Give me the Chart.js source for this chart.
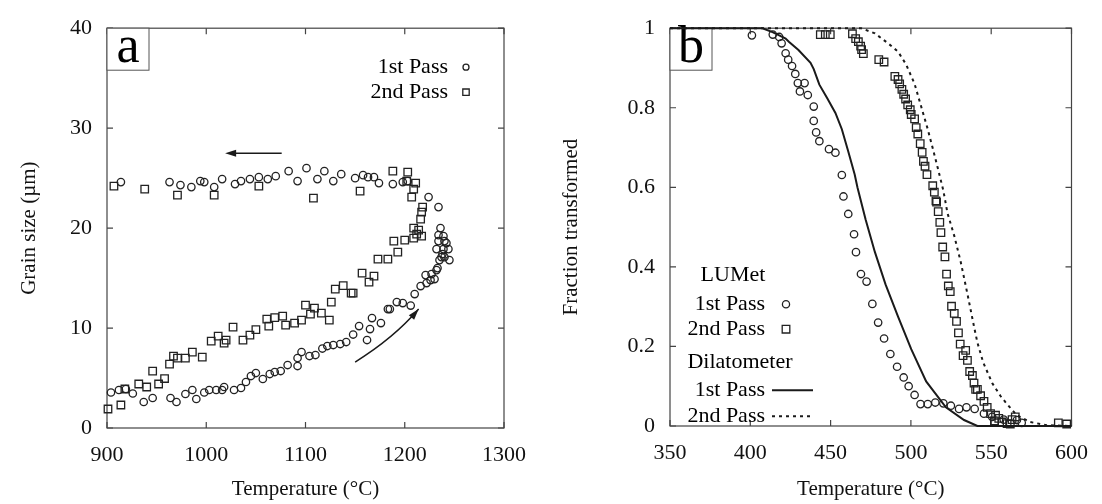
<!DOCTYPE html>
<html>
<head>
<meta charset="utf-8">
<script src="https://cdn.jsdelivr.net/npm/chart.js@4.4.0/dist/chart.umd.min.js"></script>
<style>
html, body { margin: 0; padding: 0; background: #fff; }
#graficoA { position: absolute; left: 0; top: 0; }
#graficoB { position: absolute; left: 540px; top: 0; }
</style>
</head>
<body>
<canvas id="graficoA" width="540" height="504"></canvas>
<canvas id="graficoB" width="562" height="504"></canvas>
<script>
// ---- Panel (a): grain size vs temperature ----
const temp1a = [904, 912, 919, 926, 937, 946, 964, 970, 979, 986, 990, 998, 1003, 1010, 1016, 1018, 1028, 1035, 1040, 1045,
  1050, 1057, 1064, 1069, 1075, 1082, 1092, 1092, 1096, 1104, 1110, 1117, 1122, 1128, 1135, 1141, 1148, 1154, 1162, 1165,
  1167, 1176, 1183, 1185, 1192, 1198, 1206, 1210, 1216, 1222, 1221, 1227, 1230, 1226, 1233, 1235, 1237, 1240, 1245, 1232,
  1239, 1244, 1234, 1242, 1239, 1234, 1236, 1240, 1238, 1232,
  1234, 1224, 1203, 1198, 1188, 1174, 1169, 1163, 1158, 1150, 1136, 1128, 1119, 1112, 1101, 1092, 1083, 1070, 1062, 1053,
  1044, 1035, 1029, 1016, 1008, 998, 994, 985, 974, 963, 914];
const size1a = [3.55, 3.8, 3.9, 3.45, 2.6, 3.0, 3.0, 2.6, 3.4, 3.8, 2.9, 3.55, 3.8, 3.8, 3.8, 4.1, 3.8, 4.0, 4.6, 5.2,
  5.5, 4.9, 5.4, 5.6, 5.7, 6.3, 6.2, 7.0, 7.6, 7.2, 7.3, 7.95, 8.2, 8.3, 8.4, 8.6, 9.35, 10.2, 8.8, 9.9,
  11.0, 10.5, 11.9, 11.9, 12.6, 12.5, 12.25, 13.4, 14.2, 14.5, 15.3, 15.4, 14.9, 14.8, 16.0, 16.8, 17.1, 17.1, 16.8, 17.9,
  17.9, 17.9, 18.7, 18.5, 19.2, 19.3, 20.0, 18.7, 17.4, 15.8,
  22.1, 23.1, 24.7, 24.6, 24.4, 24.5, 25.1, 25.1, 25.3, 25.0, 25.4, 24.7, 25.7, 24.9, 26.0, 24.7, 25.7, 25.2, 24.9, 25.1,
  24.9, 24.7, 24.4, 24.9, 24.1, 24.6, 24.7, 24.1, 24.3, 24.6, 24.6];

const temp2a = [901, 914, 918, 932, 940, 946, 952, 958, 963, 967, 971, 979, 986, 996, 1005, 1012, 1018, 1020, 1027, 1037,
  1044, 1050, 1061, 1063, 1069, 1077, 1080, 1089, 1096, 1100, 1105, 1109, 1116, 1124, 1126, 1130, 1138, 1146, 1148, 1157,
  1164, 1169, 1173, 1183, 1193, 1189, 1200, 1209, 1217, 1212, 1214, 1209, 1216, 1217, 1218, 1207, 1209, 1211, 1202, 1203,
  1188, 1155, 1108, 1053, 1008, 971, 938, 907];
const size2a = [1.9, 2.3, 3.9, 4.4, 4.1, 5.7, 4.4, 4.95, 6.4, 7.2, 7.0, 7.0, 7.6, 7.1, 8.7, 9.2, 8.5, 8.8, 10.1, 8.8,
  9.3, 9.85, 10.9, 10.2, 11.05, 11.2, 10.3, 10.5, 10.8, 12.3, 11.4, 12.0, 11.5, 10.8, 12.6, 13.9, 14.25, 13.5, 13.5, 15.5,
  14.6, 15.2, 16.9, 16.9, 17.6, 18.7, 18.8, 19.0, 19.2, 19.4, 19.8, 20.0, 20.9, 21.6, 22.1, 23.1, 23.9, 24.5, 24.7, 25.6,
  25.7, 23.7, 23.0, 24.2, 23.3, 23.3, 23.9, 24.2];

const xTicksA = [900, 1000, 1100, 1200, 1300];
const yTicksA = [0, 10, 20, 30, 40];

// arrows in data units (start, control, end)
const flechaRecta = [[1076, 27.5], [1019, 27.5]];
const flechaCurva = [[1150, 6.6], [1189, 9.0], [1214, 11.9]];

// ---- Panel (b): fraction transformed vs temperature ----
const temp1b = [401, 414, 418, 419.5, 422, 423.6, 426, 428, 429.6, 433.8, 430.9, 435.8, 439.5, 439.5, 441, 443, 449, 453, 457, 458,
  461, 464.6, 465.8, 468.9, 472.4, 476, 479.6, 483.3, 487.2, 491.4, 495.5, 498.6, 502.3, 506, 510.5, 515.2, 520.2, 524.9, 530, 534.6,
  539.7, 545.5, 550.6, 557.8, 566, 569];
const frac1b = [0.982, 0.984, 0.978, 0.962, 0.937, 0.921, 0.905, 0.885, 0.862, 0.862, 0.841, 0.832, 0.803, 0.767, 0.738, 0.716, 0.696, 0.687, 0.631, 0.577,
  0.533, 0.482, 0.437, 0.382, 0.363, 0.307, 0.260, 0.220, 0.181, 0.149, 0.122, 0.100, 0.078, 0.055, 0.055, 0.059, 0.057, 0.051, 0.043, 0.047,
  0.043, 0.031, 0.023, 0.016, 0.015, 0.008];

const temp2b = [443.6, 446.7, 449.8, 463.6, 465.6, 467.3, 468.7, 469.3, 470.4, 480, 483.3, 490, 492, 493, 494.4, 495.5, 496.7, 498, 499.6, 500.2,
  502.3, 503.3, 504.3, 505.8, 507, 507.8, 508.8, 510, 513.6, 514.6, 515.6, 516, 517, 518, 518.7, 519.8, 521.2, 522.2, 523.3, 524.5,
  525.3, 527, 528.4, 529.6, 530.7, 532.5, 534.1, 535.2, 536.6, 538.3, 539.3, 540.3, 541.4, 543.4, 545.5, 547.5, 549.6, 552.7, 554.7, 552,
  556.8, 559.9, 563, 565, 561.9, 591.8, 597];
const frac2b = [0.984, 0.984, 0.984, 0.986, 0.974, 0.966, 0.955, 0.946, 0.936, 0.921, 0.915, 0.879, 0.871, 0.860, 0.846, 0.834, 0.822, 0.807, 0.795, 0.783,
  0.772, 0.750, 0.734, 0.710, 0.688, 0.665, 0.653, 0.632, 0.604, 0.588, 0.566, 0.563, 0.539, 0.512, 0.486, 0.450, 0.425, 0.382, 0.352, 0.338,
  0.301, 0.283, 0.263, 0.234, 0.206, 0.177, 0.190, 0.165, 0.137, 0.127, 0.108, 0.092, 0.092, 0.076, 0.062, 0.047, 0.031, 0.027, 0.019, 0.013,
  0.010, 0.006, 0.016, 0.023, 0.005, 0.008, 0.005];

const dilTemp1 = [350, 407.6, 413.8, 418, 422, 424, 430, 437.5, 439.5, 443, 448, 453, 457, 461, 465, 466.7, 471.8, 477.6, 484.2, 492,
  500.2, 509.5, 521.8, 533.1, 541.4, 600];
const dilFrac1 = [1.0, 1.0, 0.99, 0.982, 0.974, 0.966, 0.945, 0.913, 0.897, 0.858, 0.823, 0.787, 0.746, 0.690, 0.632, 0.600, 0.519, 0.437, 0.356, 0.275,
  0.193, 0.112, 0.047, 0.015, 0.0, 0.0];

const dilTemp2 = [350, 469, 477.6, 485.8, 492, 497, 502.3, 506.4, 510.5, 513.6, 516.7, 520.2, 522.8, 527, 531, 535.2, 539.3, 541.4, 545, 550.6,
  555.7, 559.9, 566, 574.2, 584.6, 600];
const dilFrac2 = [1.0, 1.0, 0.987, 0.962, 0.941, 0.909, 0.860, 0.803, 0.746, 0.698, 0.649, 0.592, 0.535, 0.478, 0.413, 0.332, 0.250, 0.21, 0.16, 0.108,
  0.076, 0.055, 0.027, 0.010, 0.002, 0.0];

const xTicksB = [350, 400, 450, 500, 550, 600];
const yTicksB = [0, 0.2, 0.4, 0.6, 0.8, 1];

// ---- helpers ----
const FUENTE = "'Liberation Serif', 'DejaVu Serif', serif";
const NEGRO = '#1a1a1a';

function pares(xs, ys) {
    return xs.map((x, i) => ({ x: x, y: ys[i] }));
}

function etiqueta(v) {
    // plain numbers, no thousands separator; 0 and 1 without decimals
    if (Number.isInteger(v)) return String(v);
    return (Math.round(v * 10) / 10).toFixed(1);
}

function puntaFlecha(ctx, x0, y0, x1, y1) {
    const ang = Math.atan2(y1 - y0, x1 - x0);
    const largo = 11, ancho = 3.5;
    ctx.beginPath();
    ctx.moveTo(x1, y1);
    ctx.lineTo(x1 - largo * Math.cos(ang) + ancho * Math.sin(ang), y1 - largo * Math.sin(ang) - ancho * Math.cos(ang));
    ctx.lineTo(x1 - largo * Math.cos(ang) - ancho * Math.sin(ang), y1 - largo * Math.sin(ang) + ancho * Math.cos(ang));
    ctx.closePath();
    ctx.fill();
}

function simbolo(ctx, tipo, x, y, r) {
    ctx.beginPath();
    if (tipo === 'circle') {
        ctx.arc(x, y, r, 0, Math.PI * 2);
    } else {
        ctx.rect(x - r, y - r, 2 * r, 2 * r);
    }
    ctx.stroke();
}

// frame with inward ticks on all sides + panel letter
const marcoPlugin = {
    id: 'marco',
    beforeDatasetsDraw(chart, args, opts) {
        const { ctx, chartArea: ca, scales } = chart;
        ctx.save();
        ctx.strokeStyle = '#444';
        ctx.lineWidth = 1.2;
        ctx.strokeRect(ca.left, ca.top, ca.right - ca.left, ca.bottom - ca.top);
        ctx.beginPath();
        opts.xTicks.forEach(v => {
            const px = scales.x.getPixelForValue(v);
            ctx.moveTo(px, ca.bottom); ctx.lineTo(px, ca.bottom - 6);
            ctx.moveTo(px, ca.top); ctx.lineTo(px, ca.top + 6);
        });
        opts.yTicks.forEach(v => {
            const py = scales.y.getPixelForValue(v);
            ctx.moveTo(ca.left, py); ctx.lineTo(ca.left + 6, py);
            ctx.moveTo(ca.right, py); ctx.lineTo(ca.right - 6, py);
        });
        ctx.stroke();

        // panel letter box
        ctx.fillStyle = '#fff';
        ctx.fillRect(ca.left, ca.top, 42, 42);
        ctx.strokeStyle = '#555';
        ctx.lineWidth = 1;
        ctx.strokeRect(ca.left, ca.top, 42, 42);
        ctx.fillStyle = '#000';
        ctx.font = '52px ' + FUENTE;
        ctx.textAlign = 'center';
        ctx.textBaseline = 'alphabetic';
        ctx.fillText(opts.letra, ca.left + 21, ca.top + 34);
        ctx.restore();
    }
};

const extrasA = {
    id: 'extrasA',
    afterDraw(chart) {
        const { ctx, chartArea: ca, scales } = chart;
        const X = v => scales.x.getPixelForValue(v);
        const Y = v => scales.y.getPixelForValue(v);
        ctx.save();
        ctx.strokeStyle = NEGRO;
        ctx.fillStyle = NEGRO;
        ctx.lineWidth = 1.5;

        // straight arrow (cooling)
        const [p0, p1] = flechaRecta;
        ctx.beginPath();
        ctx.moveTo(X(p0[0]), Y(p0[1]));
        ctx.lineTo(X(p1[0]) + 6, Y(p1[1]));
        ctx.stroke();
        puntaFlecha(ctx, X(p0[0]), Y(p0[1]), X(p1[0]), Y(p1[1]));

        // curved arrow (heating)
        const [c0, c1, c2] = flechaCurva;
        ctx.beginPath();
        ctx.moveTo(X(c0[0]), Y(c0[1]));
        ctx.quadraticCurveTo(X(c1[0]), Y(c1[1]), X(c2[0]), Y(c2[1]));
        ctx.stroke();
        puntaFlecha(ctx, X(c1[0]), Y(c1[1]), X(c2[0]), Y(c2[1]));

        // legend
        ctx.font = '22px ' + FUENTE;
        ctx.textAlign = 'right';
        ctx.textBaseline = 'middle';
        ctx.fillStyle = '#000';
        ctx.fillText('1st Pass', ca.right - 56, ca.top + 39);
        ctx.fillText('2nd Pass', ca.right - 56, ca.top + 64);
        ctx.lineWidth = 1.3;
        ctx.strokeStyle = '#222';
        simbolo(ctx, 'circle', ca.right - 38, ca.top + 39, 3);
        simbolo(ctx, 'rect', ca.right - 38, ca.top + 64, 3.2);
        ctx.restore();
    }
};

const extrasB = {
    id: 'extrasB',
    afterDraw(chart) {
        const { ctx, chartArea: ca } = chart;
        ctx.save();
        ctx.font = '22px ' + FUENTE;
        ctx.fillStyle = '#000';
        ctx.textBaseline = 'middle';
        ctx.textAlign = 'center';
        ctx.fillText('LUMet', ca.left + 63, ca.top + 247);
        ctx.fillText('Dilatometer', ca.left + 70, ca.top + 334);
        ctx.textAlign = 'right';
        ctx.fillText('1st Pass', ca.left + 95, ca.top + 276);
        ctx.fillText('2nd Pass', ca.left + 95, ca.top + 301);
        ctx.fillText('1st Pass', ca.left + 95, ca.top + 362);
        ctx.fillText('2nd Pass', ca.left + 95, ca.top + 388);

        ctx.strokeStyle = '#222';
        ctx.lineWidth = 1.3;
        simbolo(ctx, 'circle', ca.left + 116, ca.top + 276, 3.6);
        simbolo(ctx, 'rect', ca.left + 116, ca.top + 301, 3.8);

        ctx.strokeStyle = NEGRO;
        ctx.lineWidth = 2;
        ctx.beginPath();
        ctx.moveTo(ca.left + 102, ca.top + 362);
        ctx.lineTo(ca.left + 143, ca.top + 362);
        ctx.stroke();
        ctx.setLineDash([3, 4]);
        ctx.beginPath();
        ctx.moveTo(ca.left + 102, ca.top + 388);
        ctx.lineTo(ca.left + 143, ca.top + 388);
        ctx.stroke();
        ctx.restore();
    }
};

function ejeX(min, max, paso, alto, titulo) {
    return {
        type: 'linear', min: min, max: max,
        grid: { display: false, drawTicks: false }, border: { display: false },
        ticks: { stepSize: paso, autoSkip: false, maxRotation: 0, padding: 14, color: '#111',
                 font: { family: FUENTE, size: 22 }, callback: etiqueta },
        title: { display: true, text: titulo, color: '#111', padding: { top: 0, bottom: 2 },
                 font: { family: FUENTE, size: 21 } },
        afterFit: s => { s.height = alto; }
    };
}

function ejeY(min, max, paso, ancho, titulo, pad) {
    return {
        type: 'linear', min: min, max: max,
        grid: { display: false, drawTicks: false }, border: { display: false },
        ticks: { stepSize: paso, autoSkip: false, padding: 15, color: '#111',
                 font: { family: FUENTE, size: 22 }, callback: etiqueta },
        title: { display: true, text: titulo, color: '#111', padding: pad,
                 font: { family: FUENTE, size: 21 } },
        afterFit: s => { s.width = ancho; }
    };
}

const opcionesBase = {
    responsive: false,
    animation: false,
    events: [],
    plugins: { legend: { display: false }, tooltip: { enabled: false } }
};

// ---- chart (a) ----
new Chart(document.getElementById('graficoA').getContext('2d'), {
    type: 'scatter',
    data: {
        datasets: [
            { label: '1st Pass', data: pares(temp1a, size1a), pointStyle: 'circle', pointRadius: 3.7,
              borderColor: '#222', backgroundColor: 'rgba(0,0,0,0)', borderWidth: 1.3, clip: false },
            { label: '2nd Pass', data: pares(temp2a, size2a), pointStyle: 'rect', pointRadius: 5.3,
              borderColor: '#222', backgroundColor: 'rgba(0,0,0,0)', borderWidth: 1.3, clip: false }
        ]
    },
    options: Object.assign({}, opcionesBase, {
        layout: { padding: { left: 0, top: 19, right: 28, bottom: 0 } },
        scales: {
            x: ejeX(900, 1300, 100, 76, 'Temperature (°C)'),
            y: ejeY(0, 40, 10, 107, 'Grain size (µm)', 17)
        },
        plugins: Object.assign({}, opcionesBase.plugins, {
            marco: { xTicks: xTicksA, yTicks: yTicksA, letra: 'a' }
        })
    }),
    plugins: [marcoPlugin, extrasA]
});

// ---- chart (b) ----
new Chart(document.getElementById('graficoB').getContext('2d'), {
    type: 'scatter',
    data: {
        datasets: [
            { label: 'Dilatometer 1st Pass', data: pares(dilTemp1, dilFrac1), showLine: true, pointRadius: 0,
              borderColor: NEGRO, borderWidth: 2, clip: false },
            { label: 'Dilatometer 2nd Pass', data: pares(dilTemp2, dilFrac2), showLine: true, pointRadius: 0,
              borderColor: NEGRO, borderWidth: 2, borderDash: [3, 4], clip: false },
            { label: 'LUMet 1st Pass', data: pares(temp1b, frac1b), pointStyle: 'circle', pointRadius: 3.7,
              borderColor: '#222', backgroundColor: 'rgba(0,0,0,0)', borderWidth: 1.3, clip: false },
            { label: 'LUMet 2nd Pass', data: pares(temp2b, frac2b), pointStyle: 'rect', pointRadius: 5.3,
              borderColor: '#222', backgroundColor: 'rgba(0,0,0,0)', borderWidth: 1.3, clip: false }
        ]
    },
    options: Object.assign({}, opcionesBase, {
        layout: { padding: { left: 0, top: 16, right: 27, bottom: 0 } },
        scales: {
            x: ejeX(350, 600, 50, 78, 'Temperature (°C)'),
            y: ejeY(0, 1, 0.2, 130, 'Fraction transformed', 19)
        },
        plugins: Object.assign({}, opcionesBase.plugins, {
            marco: { xTicks: xTicksB, yTicks: yTicksB, letra: 'b' }
        })
    }),
    plugins: [marcoPlugin, extrasB]
});
</script>
</body>
</html>
